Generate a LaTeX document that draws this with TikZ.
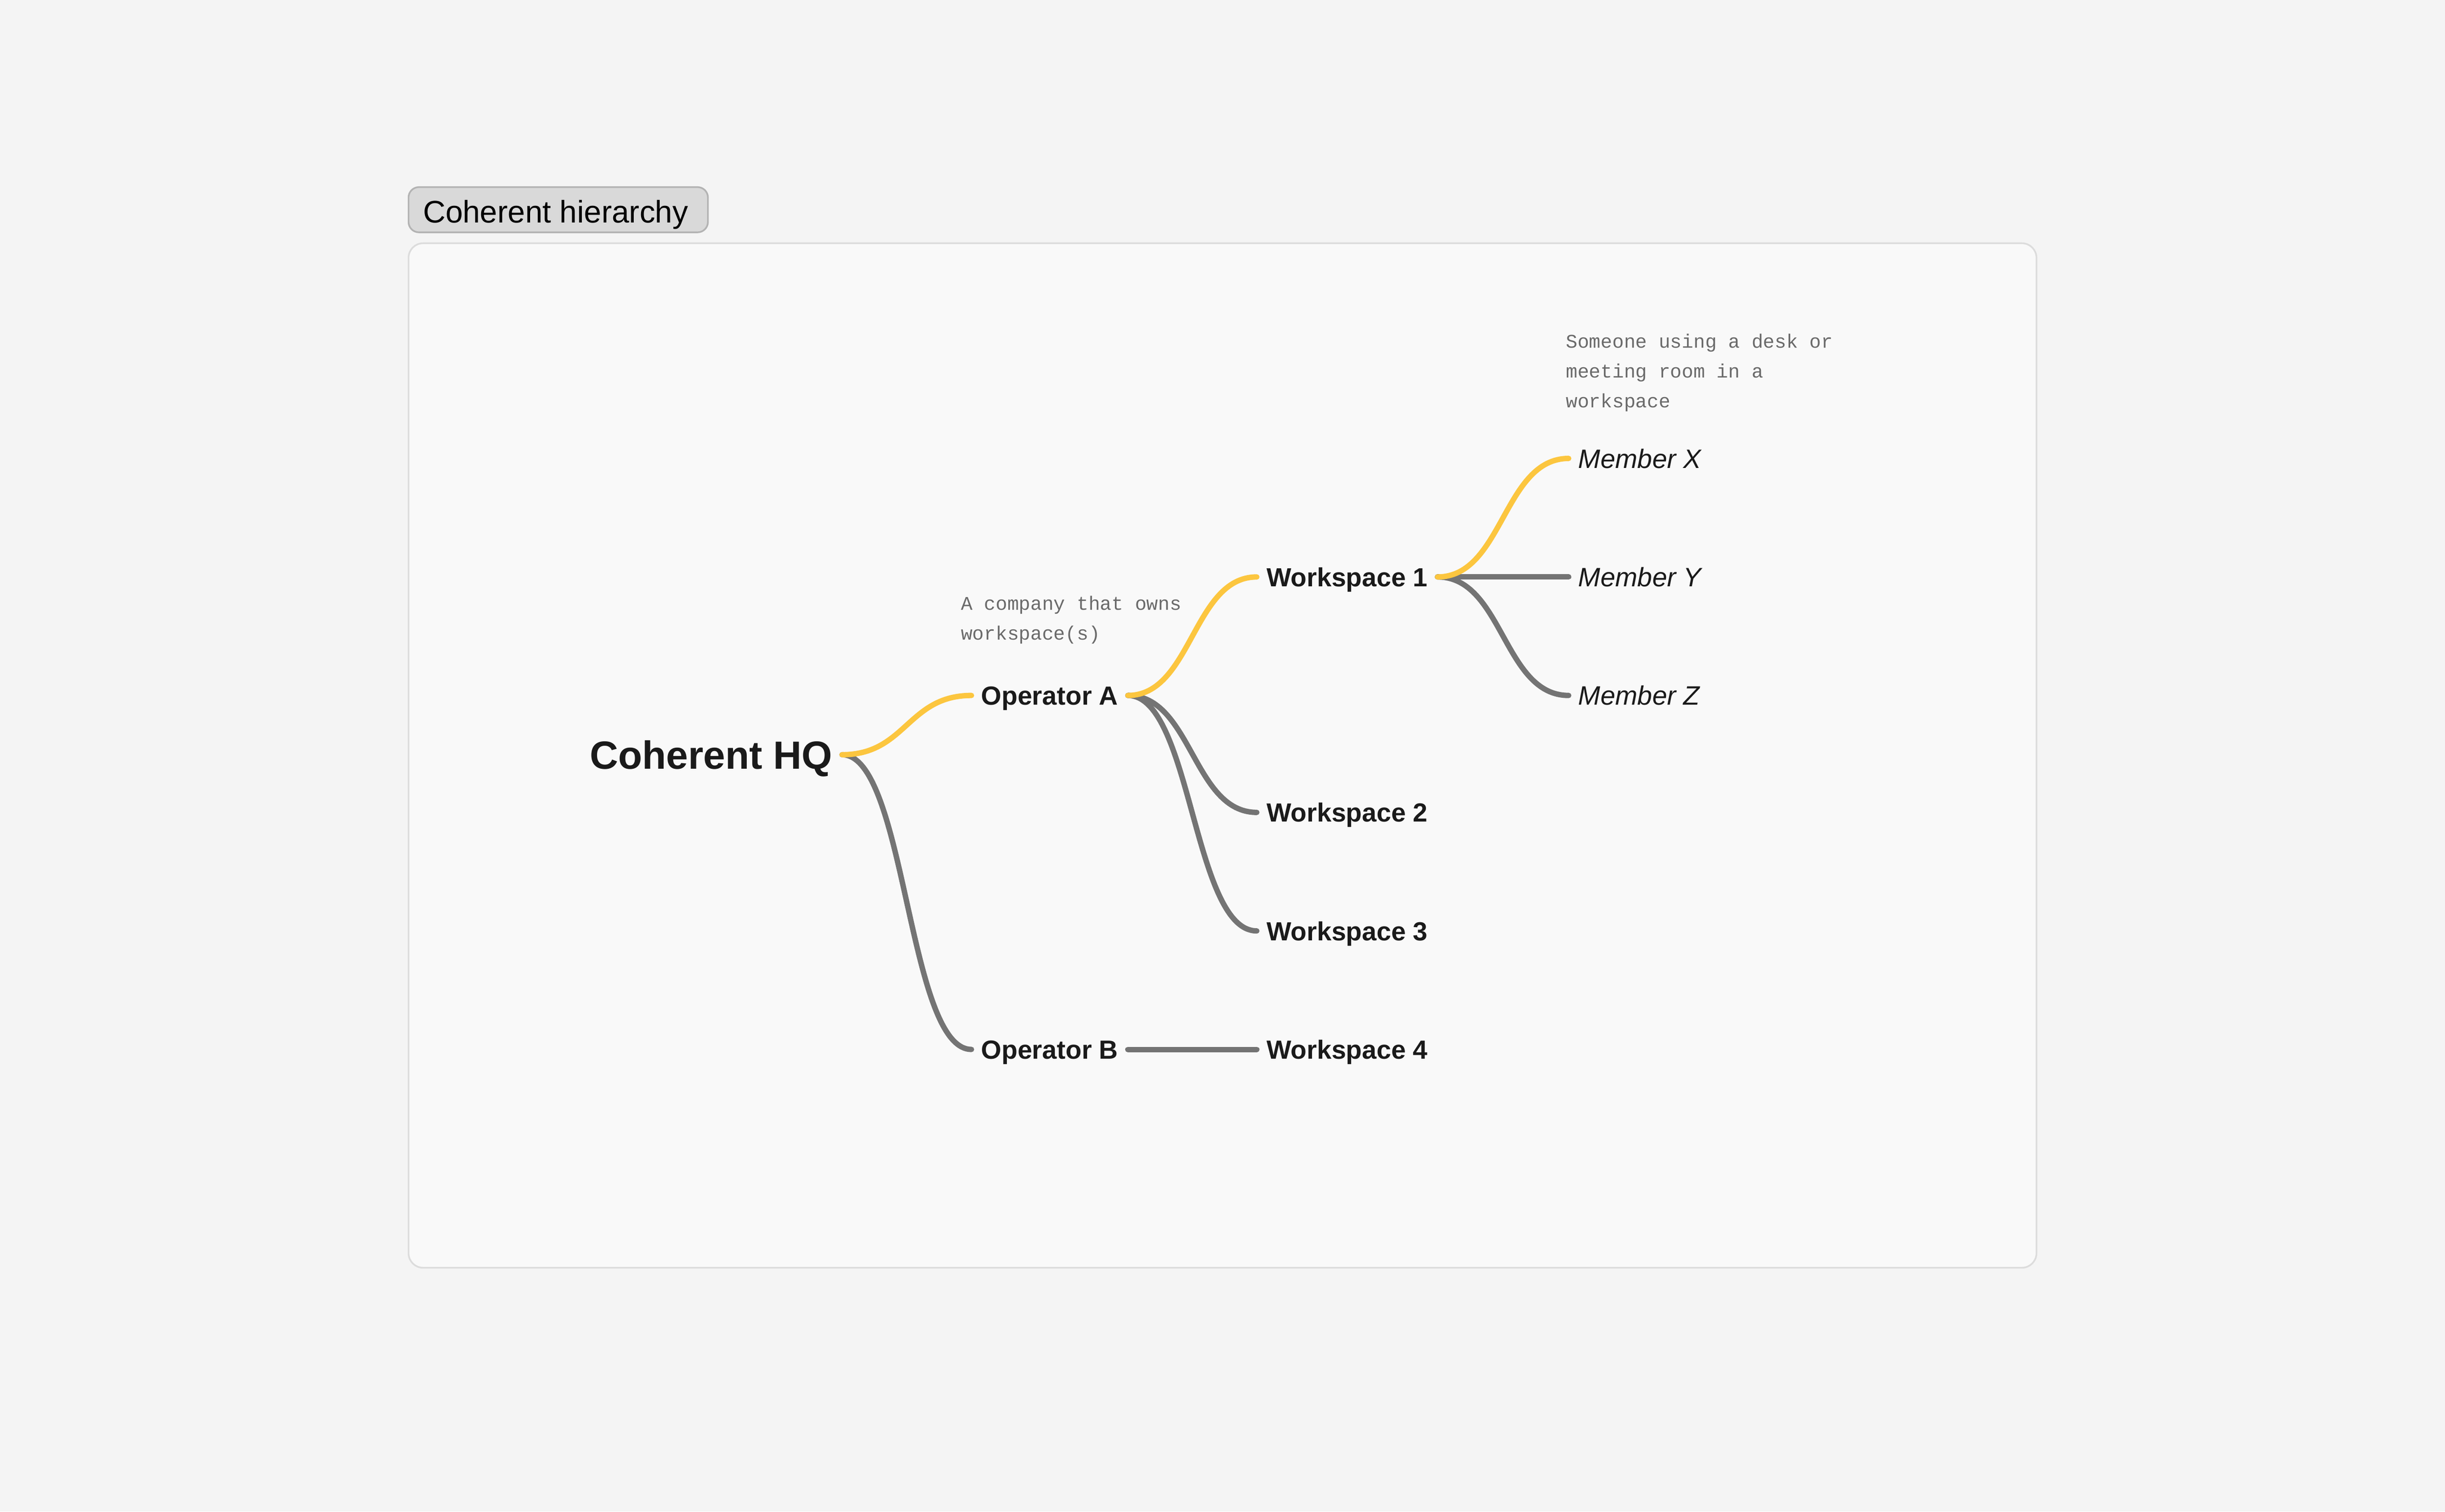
\documentclass[tikz,border=0pt]{standalone}
\usepackage{fontspec}
\setmainfont{Liberation Sans}
\newfontfamily\notefont{Liberation Mono}
\usetikzlibrary{calc,positioning}

\definecolor{pagebg}{HTML}{F4F4F4}
\definecolor{canvasbg}{HTML}{F9F9F9}
\definecolor{canvasline}{HTML}{DCDCDC}
\definecolor{tabfill}{HTML}{D9D9D9}
\definecolor{tabline}{HTML}{B3B3B3}
\definecolor{linkyellow}{HTML}{FCC63F}
\definecolor{linkgray}{HTML}{747474}
\definecolor{inktext}{HTML}{1A1A1A}
\definecolor{notetext}{HTML}{6A6A6A}

\tikzset{
  topic/.style={text=inktext, inner xsep=4.5pt, inner ysep=0pt, text depth=0pt},
  hq/.style={topic, text height=13.6pt, font=\fontsize{18.9}{22}\selectfont\bfseries},
  op/.style={topic, text height=9.1pt, font=\fontsize{12.6}{15}\selectfont\bfseries},
  member/.style={topic, text height=9.2pt, font=\fontsize{12.8}{15}\selectfont\itshape},
  note/.style={text=notetext, inner sep=0pt, align=left,
    font=\notefont\fontsize{9.3}{14.25}\selectfont},
  link/.style={line width=2.6pt, line cap=round},
  ylink/.style={link, draw=linkyellow},
  glink/.style={link, draw=linkgray}
}

\begin{document}
\begin{tikzpicture}[x={(0.75pt,0)}, y={(0,-0.75pt)}]
% page and canvas
\fill[pagebg] (0,0) rectangle (1568,969.4);
\useasboundingbox (0,0) rectangle (1568,969.4);
\draw[canvasline, fill=canvasbg, line width=0.8pt, rounded corners=7pt]
  (262,156) rectangle (1306,813);
\draw[tabline, fill=tabfill, line width=0.8pt, rounded corners=5pt]
  (262,120) rectangle (454,149);
\node[anchor=base west, inner sep=0pt, font=\fontsize{15}{18}\selectfont] (title) at (271,143) {Coherent hierarchy};

% topics
\node[hq, anchor=east] (hq) at (540,484) {Coherent HQ};
\node[op, anchor=west] (opa) at (623,446) {Operator A};
\node[op, anchor=west] (opb) at (623,673) {Operator B};
\node[op, anchor=west] (ws1) at (806,370) {Workspace 1};
\node[op, anchor=west] (ws2) at (806,521) {Workspace 2};
\node[op, anchor=west] (ws3) at (806,597) {Workspace 3};
\node[op, anchor=west] (ws4) at (806,673) {Workspace 4};
\node[member, anchor=west] (mx) at (1006,294) {Member X};
\node[member, anchor=west] (my) at (1006,370) {Member Y};
\node[member, anchor=west] (mz) at (1006,446) {Member Z};

% notes
\node[note, anchor=north west] (opanote) at (616,382) {A company that owns\\workspace(s)};
\node[note, anchor=north west] (mxnote) at (1004,214) {Someone using a desk or\\meeting room in a\\workspace};

% links
\draw[glink] (hq.east) .. controls +(41,0) and +(-41,0) .. (opb.west);
\draw[glink] (opa.east) .. controls +(41,0) and +(-41,0) .. (ws2.west);
\draw[glink] (opa.east) .. controls +(41,0) and +(-41,0) .. (ws3.west);
\draw[glink] (opb.east) -- (ws4.west);
\draw[glink] (ws1.east) -- (my.west);
\draw[glink] (ws1.east) .. controls +(42,0) and +(-42,0) .. (mz.west);
\draw[ylink] (hq.east) .. controls +(41,0) and +(-41,0) .. (opa.west);
\draw[ylink] (opa.east) .. controls +(41,0) and +(-41,0) .. (ws1.west);
\draw[ylink] (ws1.east) .. controls +(42,0) and +(-42,0) .. (mx.west);
\end{tikzpicture}
\end{document}
